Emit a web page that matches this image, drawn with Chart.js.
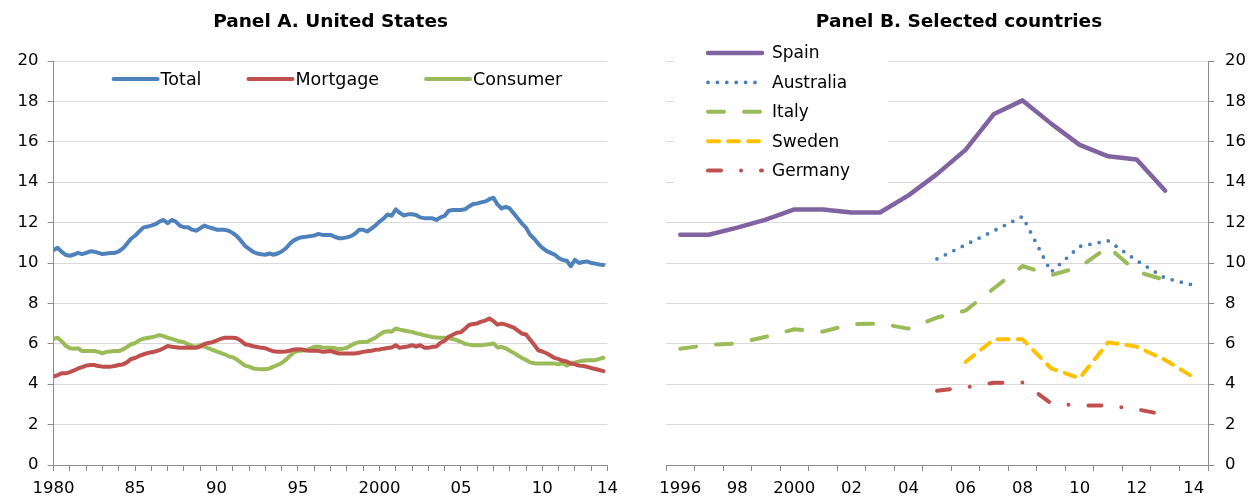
<!DOCTYPE html>
<html><head><meta charset="utf-8">
<script src="https://cdn.jsdelivr.net/npm/chart.js@4.4.1/dist/chart.umd.min.js"></script>
<style>
html,body{margin:0;padding:0;background:#fff;}
#wrap{position:relative;width:1253px;height:504px;overflow:hidden;}
#cA{position:absolute;left:0;top:0;}
#cB{position:absolute;left:626px;top:0;}
</style></head><body>
<div id="wrap"><canvas id="cA" width="626" height="504"></canvas><canvas id="cB" width="627" height="504"></canvas></div>
<script>
// ---------- Panel A: United States (quarterly, 1980Q1 - 2013Q4) ----------
const usStartYear = 1980;
const usTotal = [
 10.65,10.75,10.55,10.40, 10.36,10.42,10.50,10.44, 10.50,10.58,10.56,10.50, 10.44,10.47,10.49,10.50,
 10.58,10.72,10.95,11.20, 11.35,11.55,11.75,11.80, 11.85,11.92,12.05,12.13, 11.97,12.13,12.05,11.85,
 11.77,11.77,11.65,11.60, 11.72,11.85,11.78,11.72, 11.65,11.64,11.64,11.60, 11.48,11.33,11.10,10.85,
 10.70,10.55,10.47,10.43, 10.41,10.47,10.41,10.47, 10.57,10.72,10.95,11.12, 11.22,11.28,11.30,11.33,
 11.36,11.44,11.39,11.39, 11.39,11.30,11.23,11.23, 11.27,11.33,11.45,11.64, 11.64,11.56,11.70,11.85,
 12.05,12.20,12.40,12.34, 12.65,12.48,12.35,12.41, 12.41,12.38,12.26,12.22, 12.21,12.21,12.13,12.26,
 12.33,12.59,12.62,12.62, 12.62,12.66,12.80,12.92, 12.95,13.00,13.05,13.16, 13.23,12.90,12.70,12.78,
 12.70,12.45,12.20,11.95, 11.75,11.40,11.20,10.95, 10.75,10.60,10.50,10.42, 10.25,10.15,10.11,9.84,
 10.16,10.00,10.05,10.08, 10.00,9.97,9.93,9.90
];
const usMortgage = [
 4.38,4.45,4.54,4.54, 4.60,4.68,4.78,4.85, 4.92,4.95,4.95,4.90, 4.87,4.87,4.87,4.90,
 4.95,4.98,5.08,5.25, 5.30,5.40,5.47,5.54, 5.58,5.62,5.69,5.78, 5.89,5.85,5.83,5.81,
 5.81,5.82,5.80,5.80, 5.86,5.99,6.04,6.08, 6.16,6.24,6.30,6.30, 6.30,6.27,6.15,5.98,
 5.94,5.88,5.84,5.80, 5.78,5.70,5.63,5.61, 5.61,5.62,5.66,5.72, 5.73,5.72,5.67,5.66,
 5.66,5.65,5.61,5.62, 5.64,5.58,5.52,5.52, 5.52,5.52,5.52,5.56, 5.60,5.63,5.66,5.70,
 5.72,5.76,5.79,5.82, 5.93,5.80,5.84,5.87, 5.93,5.86,5.93,5.81, 5.80,5.85,5.87,6.05,
 6.15,6.35,6.45,6.55, 6.57,6.75,6.93,6.98, 7.01,7.10,7.15,7.25, 7.12,6.95,7.00,6.95,
 6.88,6.80,6.65,6.50, 6.46,6.20,5.95,5.68, 5.62,5.53,5.42,5.30, 5.24,5.16,5.12,5.02,
 4.98,4.92,4.90,4.86, 4.80,4.75,4.70,4.65
];
const usConsumer = [
 6.25,6.30,6.12,5.90, 5.78,5.76,5.78,5.64, 5.64,5.64,5.64,5.60, 5.53,5.60,5.62,5.64,
 5.64,5.72,5.84,5.98, 6.03,6.17,6.25,6.29, 6.32,6.37,6.43,6.38, 6.30,6.24,6.18,6.11,
 6.08,5.98,5.90,5.85, 5.94,5.86,5.78,5.70, 5.62,5.55,5.48,5.38, 5.33,5.22,5.07,4.92,
 4.87,4.78,4.75,4.74, 4.74,4.78,4.87,4.95, 5.05,5.20,5.40,5.58, 5.64,5.67,5.70,5.76,
 5.85,5.86,5.82,5.81, 5.80,5.79,5.73,5.76, 5.80,5.92,6.02,6.08, 6.09,6.10,6.20,6.30,
 6.45,6.58,6.62,6.60, 6.76,6.70,6.66,6.62, 6.59,6.52,6.48,6.42, 6.38,6.34,6.31,6.30,
 6.30,6.28,6.24,6.18, 6.10,6.00,5.96,5.93, 5.93,5.93,5.96,5.98, 6.02,5.82,5.84,5.78,
 5.66,5.55,5.42,5.30, 5.20,5.08,5.04,5.03, 5.03,5.03,5.03,5.02, 4.98,5.05,4.92,5.06,
 5.08,5.12,5.16,5.19, 5.19,5.19,5.25,5.31
];
const usTickYears = [1980,1981,1982,1983,1984,1985,1986,1987,1988,1989,1990,1991,1992,1993,1994,1995,1996,1997,1998,1999,2000,2001,2002,2003,2004,2005,2006,2007,2008,2009,2010,2011,2012,2013,2014];
const usLabelYears = [1980,1985,1990,1995,2000,2005,2010,2014];
const usLabelText  = ['1980','85','90','95','2000','05','10','14'];

// ---------- Panel B: Selected countries (annual, 1996 - 2014) ----------
const bYears = ['1996','1997','1998','1999','2000','2001','2002','2003','2004','2005','2006','2007','2008','2009','2010','2011','2012','2013','2014'];
const bTickText = ['1996','','98','','2000','','02','','04','','06','','08','','10','','12','','14'];
const spain     = [11.4,11.4,11.75,12.15,12.65,12.65,12.5,12.5,13.35,14.4,15.6,17.38,18.05,16.9,15.85,15.28,15.12,13.58,null];
const australia = [null,null,null,null,null,null,null,null,null,10.2,10.9,11.6,12.3,9.55,10.82,11.1,10.12,9.25,8.9];
const italy     = [5.75,5.95,6.02,6.35,6.72,6.6,6.98,7.0,6.75,7.3,7.64,8.75,9.85,9.4,9.8,10.8,9.57,9.16,null];
const sweden    = [null,null,null,null,null,null,null,null,null,null,5.1,6.22,6.22,4.78,4.3,6.07,5.86,5.2,4.34];
const germany   = [null,null,null,null,null,null,null,null,null,3.68,3.84,4.07,4.09,3.05,2.94,2.94,2.76,2.48,null];

// ---------- common styling ----------
Chart.defaults.font.family = "'DejaVu Sans', sans-serif";
Chart.defaults.color = '#000';
const AXIS = '#8C8C8C', GRID = '#D9D9D9';
const FONT_TICK = {size: 16.5};
const FONT_TITLE = {size: 18.5, weight: 'bold'};

const lineLegend = {
  id: 'lineLegend',
  beforeDatasetsDraw(chart, args, o) {
    const ctx = chart.ctx, ca = chart.chartArea;
    ctx.save();
    if (o.box) { ctx.fillStyle = '#fff'; ctx.fillRect(ca.left + o.box.x, o.box.y, o.box.w, o.box.h); }
    ctx.font = o.font; ctx.textBaseline = 'middle'; ctx.textAlign = 'left';
    let x = ca.left + o.x, y = o.y;
    chart.data.datasets.forEach(ds => {
      ctx.save();
      ctx.strokeStyle = ds.borderColor; ctx.lineWidth = ds.borderWidth;
      ctx.setLineDash(ds.borderDash || []); ctx.lineCap = ds.borderCapStyle || 'butt';
      ctx.beginPath(); ctx.moveTo(x, y); ctx.lineTo(x + o.sampleW, y); ctx.stroke();
      ctx.restore();
      ctx.fillStyle = '#000';
      ctx.fillText(ds.label, x + o.sampleW + o.textGap, y + 1);
      if (o.dir === 'row') x += o.sampleW + o.textGap + ctx.measureText(ds.label).width + o.itemGap;
      else y += o.rowH;
    });
    ctx.restore();
  }
};

function ds(label, data, color, width, dash) {
  return {label, data, borderColor: color, backgroundColor: color, borderWidth: width,
    borderDash: dash || [], borderCapStyle: 'round', borderJoinStyle: 'round',
    pointRadius: 0, pointHoverRadius: 0, tension: 0, fill: false, spanGaps: false};
}

// Panel A
const toXY = arr => arr.map((v, i) => ({x: usStartYear + i / 4, y: v}));
new Chart(document.getElementById('cA'), {
  type: 'line',
  data: {datasets: [
    ds('Total', toXY(usTotal), '#4F81BD', 4),
    ds('Mortgage', toXY(usMortgage), '#C0504D', 4),
    ds('Consumer', toXY(usConsumer), '#9BBB59', 4)
  ]},
  plugins: [lineLegend],
  options: {
    responsive: false, animation: false, devicePixelRatio: 1,
    layout: {padding: {top: 11, left: 4, right: 14.4, bottom: 0}},
    plugins: {
      legend: {display: false}, tooltip: {enabled: false},
      title: {display: true, fullSize: false, text: 'Panel A. United States', font: FONT_TITLE, color: '#000', padding: {top: 0, bottom: 27.8}},
      lineLegend: {x: 60, y: 79, dir: 'row', sampleW: 44, textGap: 3, itemGap: 47, font: "17.5px 'DejaVu Sans'"}
    },
    scales: {
      x: {type: 'linear', min: 1980, max: 2014,
        afterBuildTicks(s) { s.ticks = usTickYears.map(v => ({value: v})); },
        afterFit(s) { s.height = 39; },
        ticks: {autoSkip: false, maxRotation: 0, padding: 8, font: FONT_TICK, color: '#000',
          callback(v) { const i = usLabelYears.indexOf(v); return i >= 0 ? usLabelText[i] : ''; }},
        grid: {drawOnChartArea: false, tickColor: AXIS, tickLength: 6},
        border: {color: AXIS, width: 1}},
      y: {min: 0, max: 20,
        afterFit(s) { s.width = 49.6; },
        ticks: {stepSize: 2, padding: 9, font: FONT_TICK, color: '#000'},
        grid: {color: GRID, tickColor: AXIS, tickLength: 6},
        border: {color: AXIS, width: 1}}
    }
  }
});

// Panel B
new Chart(document.getElementById('cB'), {
  type: 'line',
  data: {labels: bYears, datasets: [
    ds('Spain', spain, '#8064A2', 4.5),
    ds('Australia', australia, '#4A7EBB', 3.8, [0, 9.4]),
    ds('Italy', italy, '#9BBB59', 4, [16, 20]),
    ds('Sweden', sweden, '#FFC000', 4, [11, 9]),
    ds('Germany', germany, '#C0504D', 4, [13, 20, 0, 20])
  ]},
  plugins: [lineLegend],
  options: {
    responsive: false, animation: false, devicePixelRatio: 1,
    layout: {padding: {top: 11, left: 40, right: 1, bottom: 0}},
    plugins: {
      legend: {display: false}, tooltip: {enabled: false},
      title: {display: true, text: 'Panel B. Selected countries', font: FONT_TITLE, color: '#000', padding: {top: 0, bottom: 27.8}},
      lineLegend: {x: 42, y: 53, dir: 'col', rowH: 29.4, sampleW: 54, textGap: 10, font: "17px 'DejaVu Sans'",
        box: {x: 8, y: 38, w: 214, h: 150}}
    },
    scales: {
      x: {type: 'category', offset: true,
        afterFit(s) { s.height = 39; },
        ticks: {autoSkip: false, maxRotation: 0, padding: 8, font: FONT_TICK, color: '#000',
          callback(v, i) { return bTickText[i]; }},
        grid: {offset: true, drawOnChartArea: false, tickColor: AXIS, tickLength: 6},
        border: {color: AXIS, width: 1}},
      y: {position: 'right', min: 0, max: 20,
        afterFit(s) { s.width = 44; },
        ticks: {stepSize: 2, padding: 11, font: FONT_TICK, color: '#000'},
        grid: {color: GRID, tickColor: AXIS, tickLength: 6},
        border: {color: AXIS, width: 1}}
    }
  }
});
</script>
</body></html>
